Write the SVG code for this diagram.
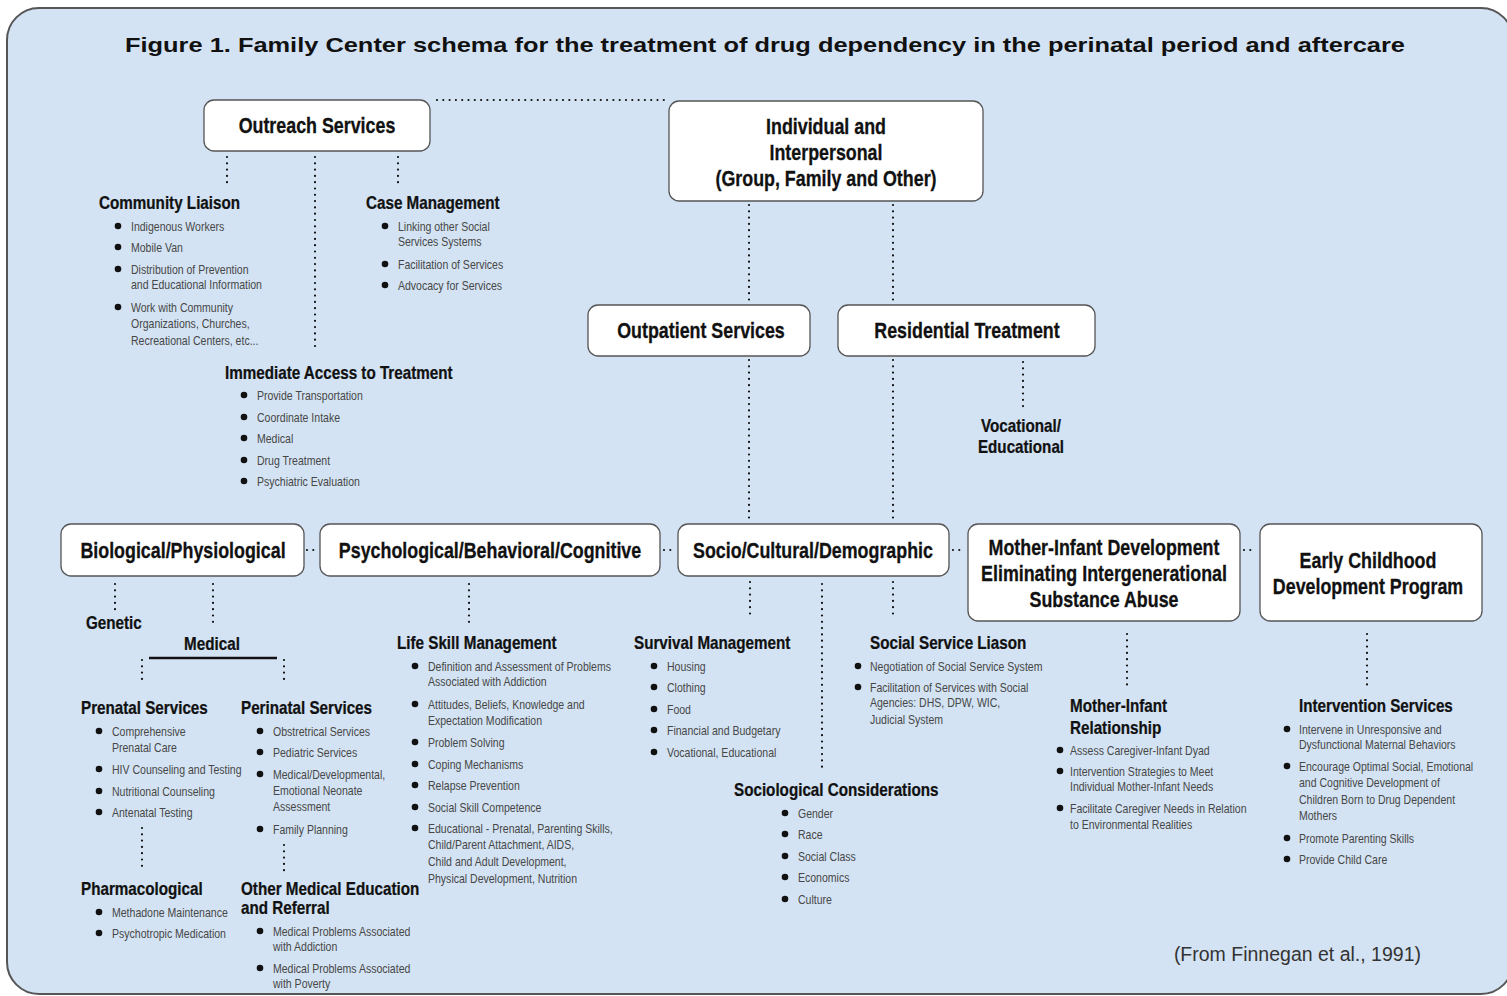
<svg xmlns="http://www.w3.org/2000/svg" width="1507" height="996" viewBox="0 0 1507 996">
<style>
.frame{fill:#d3e3f3;stroke:#555;stroke-width:2}
.box{fill:#fff;stroke:#555;stroke-width:1.3}
text{font-family:"Liberation Sans",Arial,sans-serif}
.title{font-weight:bold;font-size:21px;fill:#111;text-anchor:middle}
.bt{font-weight:bold;font-size:21.5px;fill:#111;stroke:#111;stroke-width:.3;text-anchor:middle}
.hd{font-weight:bold;font-size:18px;fill:#111;stroke:#111;stroke-width:.25}
.it{font-size:13px;fill:#474747}
.cite{font-size:19.5px;fill:#333;text-anchor:end}
.dl{fill:none;stroke:#111;stroke-width:2.2;stroke-dasharray:0 6.3;stroke-linecap:round}
.sl{fill:none;stroke:#111;stroke-width:2.5}
.b{fill:#111}
</style>
<rect class="frame" x="7" y="8" width="1506" height="986" rx="32"/>
<text class="title" x="765" y="51.5" textLength="1280" lengthAdjust="spacingAndGlyphs">Figure 1. Family Center schema for the treatment of drug dependency in the perinatal period and aftercare</text>

<g id="connectors">
<path class="dl" d="M437 100H667"/>
<path class="dl" d="M227 157V188M315 157V348M398 157V188"/>
<path class="dl" d="M749 205V302M893 205V302M749 360V522M893 360V522M1023 362V412"/>
<path class="dl" d="M307 550H318M664 550H675M953 550H965M1244 550H1256"/>
<path class="dl" d="M115 584V610M213 584V628M142 660V685M284 660V685M142 828V872M284 845V872"/>
<path class="dl" d="M469 584V628"/>
<path class="dl" d="M750 582V618M822 584V768M893 582V618"/>
<path class="dl" d="M1127 634V690M1367 634V690"/>
<path class="sl" d="M149 658H277"/>
</g>

<g id="outreach"><rect class="box" x="204" y="100" width="226" height="51" rx="10"/><text class="bt" transform="translate(317 132.5) scale(.83 1)">Outreach Services</text></g>
<g id="individual"><rect class="box" x="669" y="101" width="314" height="100" rx="10"/><text class="bt" transform="translate(826 133.5) scale(.83 1)">Individual and</text><text class="bt" transform="translate(826 159.5) scale(.83 1)">Interpersonal</text><text class="bt" transform="translate(826 185.5) scale(.83 1)">(Group, Family and Other)</text></g>
<g id="outpatient"><rect class="box" x="588" y="305" width="222" height="51" rx="10"/><text class="bt" transform="translate(701 337.5) scale(.83 1)">Outpatient Services</text></g>
<g id="residential"><rect class="box" x="838" y="305" width="257" height="51" rx="10"/><text class="bt" transform="translate(967 337.5) scale(.83 1)">Residential Treatment</text></g>
<g id="vocational"><text class="hd" text-anchor="middle" transform="translate(1021 431.5) scale(.845 1)">Vocational/</text><text class="hd" text-anchor="middle" transform="translate(1021 452.5) scale(.845 1)">Educational</text></g>
<g id="bio"><rect class="box" x="61" y="524" width="243" height="52" rx="10"/><text class="bt" transform="translate(183 557.5) scale(.83 1)">Biological/Physiological</text></g>
<g id="psych"><rect class="box" x="320" y="524" width="340" height="52" rx="10"/><text class="bt" transform="translate(490 557.5) scale(.83 1)">Psychological/Behavioral/Cognitive</text></g>
<g id="socio"><rect class="box" x="678" y="524" width="271" height="52" rx="10"/><text class="bt" transform="translate(813 557.5) scale(.83 1)">Socio/Cultural/Demographic</text></g>
<g id="motherinfant"><rect class="box" x="968" y="524" width="272" height="97" rx="10"/><text class="bt" transform="translate(1104 554.5) scale(.83 1)">Mother-Infant Development</text><text class="bt" transform="translate(1104 580.5) scale(.83 1)">Eliminating Intergenerational</text><text class="bt" transform="translate(1104 606.5) scale(.83 1)">Substance Abuse</text></g>
<g id="early"><rect class="box" x="1260" y="524" width="222" height="97" rx="10"/><text class="bt" transform="translate(1368 567.5) scale(.83 1)">Early Childhood</text><text class="bt" transform="translate(1368 593.5) scale(.83 1)">Development Program</text></g>

<g id="community">
<text class="hd" transform="translate(99 208.5) scale(.845 1)">Community Liaison</text>
<circle class="b" cx="118" cy="226" r="3.3"/><text class="it" transform="translate(131 230.5) scale(.81 1)">Indigenous Workers</text>
<circle class="b" cx="118" cy="247" r="3.3"/><text class="it" transform="translate(131 251.5) scale(.81 1)">Mobile Van</text>
<circle class="b" cx="118" cy="269" r="3.3"/><text class="it" transform="translate(131 273.5) scale(.81 1)">Distribution of Prevention<tspan x="0" dy="16">and Educational Information</tspan></text>
<circle class="b" cx="118" cy="307" r="3.3"/><text class="it" transform="translate(131 311.5) scale(.81 1)">Work with Community<tspan x="0" dy="17">Organizations, Churches,</tspan><tspan x="0" dy="17">Recreational Centers, etc...</tspan></text>
</g>
<g id="casemgmt">
<text class="hd" transform="translate(366 208.5) scale(.845 1)">Case Management</text>
<circle class="b" cx="385" cy="226" r="3.3"/><text class="it" transform="translate(398 230.5) scale(.81 1)">Linking other Social<tspan x="0" dy="16">Services Systems</tspan></text>
<circle class="b" cx="385" cy="264" r="3.3"/><text class="it" transform="translate(398 268.5) scale(.81 1)">Facilitation of Services</text>
<circle class="b" cx="385" cy="285" r="3.3"/><text class="it" transform="translate(398 289.5) scale(.81 1)">Advocacy for Services</text>
</g>
<g id="immediate">
<text class="hd" transform="translate(225 378.5) scale(.845 1)">Immediate Access to Treatment</text>
<circle class="b" cx="244" cy="395" r="3.3"/><text class="it" transform="translate(257 399.5) scale(.81 1)">Provide Transportation</text>
<circle class="b" cx="244" cy="417" r="3.3"/><text class="it" transform="translate(257 421.5) scale(.81 1)">Coordinate Intake</text>
<circle class="b" cx="244" cy="438" r="3.3"/><text class="it" transform="translate(257 442.5) scale(.81 1)">Medical</text>
<circle class="b" cx="244" cy="460" r="3.3"/><text class="it" transform="translate(257 464.5) scale(.81 1)">Drug Treatment</text>
<circle class="b" cx="244" cy="481" r="3.3"/><text class="it" transform="translate(257 485.5) scale(.81 1)">Psychiatric Evaluation</text>
</g>
<g id="genetic"><text class="hd" transform="translate(86 628.5) scale(.845 1)">Genetic</text></g>
<g id="medical"><text class="hd" text-anchor="middle" transform="translate(212 649.5) scale(.845 1)">Medical</text></g>
<g id="prenatal">
<text class="hd" transform="translate(81 713.5) scale(.845 1)">Prenatal Services</text>
<circle class="b" cx="99" cy="731" r="3.3"/><text class="it" transform="translate(112 735.5) scale(.81 1)">Comprehensive<tspan x="0" dy="17">Prenatal Care</tspan></text>
<circle class="b" cx="99" cy="769" r="3.3"/><text class="it" transform="translate(112 773.5) scale(.81 1)">HIV Counseling and Testing</text>
<circle class="b" cx="99" cy="791" r="3.3"/><text class="it" transform="translate(112 795.5) scale(.81 1)">Nutritional Counseling</text>
<circle class="b" cx="99" cy="812" r="3.3"/><text class="it" transform="translate(112 816.5) scale(.81 1)">Antenatal Testing</text>
</g>
<g id="pharma">
<text class="hd" transform="translate(81 894.5) scale(.845 1)">Pharmacological</text>
<circle class="b" cx="99" cy="912" r="3.3"/><text class="it" transform="translate(112 916.5) scale(.81 1)">Methadone Maintenance</text>
<circle class="b" cx="99" cy="933" r="3.3"/><text class="it" transform="translate(112 937.5) scale(.81 1)">Psychotropic Medication</text>
</g>
<g id="perinatal">
<text class="hd" transform="translate(241 713.5) scale(.845 1)">Perinatal Services</text>
<circle class="b" cx="260" cy="731" r="3.3"/><text class="it" transform="translate(273 735.5) scale(.81 1)">Obstretrical Services</text>
<circle class="b" cx="260" cy="752" r="3.3"/><text class="it" transform="translate(273 756.5) scale(.81 1)">Pediatric Services</text>
<circle class="b" cx="260" cy="774" r="3.3"/><text class="it" transform="translate(273 778.5) scale(.81 1)">Medical/Developmental,<tspan x="0" dy="16.5">Emotional Neonate</tspan><tspan x="0" dy="16.5">Assessment</tspan></text>
<circle class="b" cx="260" cy="829" r="3.3"/><text class="it" transform="translate(273 833.5) scale(.81 1)">Family Planning</text>
</g>
<g id="othermedical">
<text class="hd" transform="translate(241 894.5) scale(.845 1)">Other Medical Education<tspan x="0" dy="19.5">and Referral</tspan></text>
<circle class="b" cx="260" cy="931" r="3.3"/><text class="it" transform="translate(273 935.5) scale(.81 1)">Medical Problems Associated<tspan x="0" dy="16">with Addiction</tspan></text>
<circle class="b" cx="260" cy="968" r="3.3"/><text class="it" transform="translate(273 972.5) scale(.81 1)">Medical Problems Associated<tspan x="0" dy="16">with Poverty</tspan></text>
</g>
<g id="lifeskill">
<text class="hd" transform="translate(397 649) scale(.845 1)">Life Skill Management</text>
<circle class="b" cx="415" cy="666" r="3.3"/><text class="it" transform="translate(428 670.5) scale(.81 1)">Definition and Assessment of Problems<tspan x="0" dy="16">Associated with Addiction</tspan></text>
<circle class="b" cx="415" cy="704" r="3.3"/><text class="it" transform="translate(428 708.5) scale(.81 1)">Attitudes, Beliefs, Knowledge and<tspan x="0" dy="16.5">Expectation Modification</tspan></text>
<circle class="b" cx="415" cy="742" r="3.3"/><text class="it" transform="translate(428 746.5) scale(.81 1)">Problem Solving</text>
<circle class="b" cx="415" cy="764" r="3.3"/><text class="it" transform="translate(428 768.5) scale(.81 1)">Coping Mechanisms</text>
<circle class="b" cx="415" cy="785" r="3.3"/><text class="it" transform="translate(428 789.5) scale(.81 1)">Relapse Prevention</text>
<circle class="b" cx="415" cy="807" r="3.3"/><text class="it" transform="translate(428 811.5) scale(.81 1)">Social Skill Competence</text>
<circle class="b" cx="415" cy="828" r="3.3"/><text class="it" transform="translate(428 832.5) scale(.81 1)">Educational - Prenatal, Parenting Skills,<tspan x="0" dy="16.8">Child/Parent Attachment, AIDS,</tspan><tspan x="0" dy="16.8">Child and Adult Development,</tspan><tspan x="0" dy="16.5">Physical Development, Nutrition</tspan></text>
</g>
<g id="survival">
<text class="hd" transform="translate(634 649) scale(.845 1)">Survival Management</text>
<circle class="b" cx="654" cy="666" r="3.3"/><text class="it" transform="translate(667 670.5) scale(.81 1)">Housing</text>
<circle class="b" cx="654" cy="687" r="3.3"/><text class="it" transform="translate(667 691.5) scale(.81 1)">Clothing</text>
<circle class="b" cx="654" cy="709" r="3.3"/><text class="it" transform="translate(667 713.5) scale(.81 1)">Food</text>
<circle class="b" cx="654" cy="730" r="3.3"/><text class="it" transform="translate(667 734.5) scale(.81 1)">Financial and Budgetary</text>
<circle class="b" cx="654" cy="752" r="3.3"/><text class="it" transform="translate(667 756.5) scale(.81 1)">Vocational, Educational</text>
</g>
<g id="sociological">
<text class="hd" transform="translate(734 796) scale(.845 1)">Sociological Considerations</text>
<circle class="b" cx="785" cy="813" r="3.3"/><text class="it" transform="translate(798 817.5) scale(.81 1)">Gender</text>
<circle class="b" cx="785" cy="834" r="3.3"/><text class="it" transform="translate(798 838.5) scale(.81 1)">Race</text>
<circle class="b" cx="785" cy="856" r="3.3"/><text class="it" transform="translate(798 860.5) scale(.81 1)">Social Class</text>
<circle class="b" cx="785" cy="877" r="3.3"/><text class="it" transform="translate(798 881.5) scale(.81 1)">Economics</text>
<circle class="b" cx="785" cy="899" r="3.3"/><text class="it" transform="translate(798 903.5) scale(.81 1)">Culture</text>
</g>
<g id="socialservice">
<text class="hd" transform="translate(870 649) scale(.845 1)">Social Service Liason</text>
<circle class="b" cx="858" cy="666" r="3.3"/><text class="it" transform="translate(870 670.5) scale(.81 1)">Negotiation of Social Service System</text>
<circle class="b" cx="858" cy="687" r="3.3"/><text class="it" transform="translate(870 691.5) scale(.81 1)">Facilitation of Services with Social<tspan x="0" dy="16">Agencies: DHS, DPW, WIC,</tspan><tspan x="0" dy="16.5">Judicial System</tspan></text>
</g>
<g id="relationship">
<text class="hd" transform="translate(1070 711.5) scale(.845 1)">Mother-Infant<tspan x="0" dy="23">Relationship</tspan></text>
<circle class="b" cx="1060" cy="750" r="3.3"/><text class="it" transform="translate(1070 754.5) scale(.81 1)">Assess Caregiver-Infant Dyad</text>
<circle class="b" cx="1060" cy="771" r="3.3"/><text class="it" transform="translate(1070 775.5) scale(.81 1)">Intervention Strategies to Meet<tspan x="0" dy="16">Individual Mother-Infant Needs</tspan></text>
<circle class="b" cx="1060" cy="808" r="3.3"/><text class="it" transform="translate(1070 812.5) scale(.81 1)">Facilitate Caregiver Needs in Relation<tspan x="0" dy="16.5">to Environmental Realities</tspan></text>
</g>
<g id="intervention">
<text class="hd" transform="translate(1299 711.5) scale(.845 1)">Intervention Services</text>
<circle class="b" cx="1287" cy="729" r="3.3"/><text class="it" transform="translate(1299 733.5) scale(.81 1)">Intervene in Unresponsive and<tspan x="0" dy="16">Dysfunctional Maternal Behaviors</tspan></text>
<circle class="b" cx="1287" cy="766" r="3.3"/><text class="it" transform="translate(1299 770.5) scale(.81 1)">Encourage Optimal Social, Emotional<tspan x="0" dy="16.5">and Cognitive Development of</tspan><tspan x="0" dy="17">Children Born to Drug Dependent</tspan><tspan x="0" dy="16.5">Mothers</tspan></text>
<circle class="b" cx="1287" cy="838" r="3.3"/><text class="it" transform="translate(1299 842.5) scale(.81 1)">Promote Parenting Skills</text>
<circle class="b" cx="1287" cy="859" r="3.3"/><text class="it" transform="translate(1299 863.5) scale(.81 1)">Provide Child Care</text>
</g>
<text class="cite" x="1421" y="961">(From Finnegan et al., 1991)</text>
</svg>
